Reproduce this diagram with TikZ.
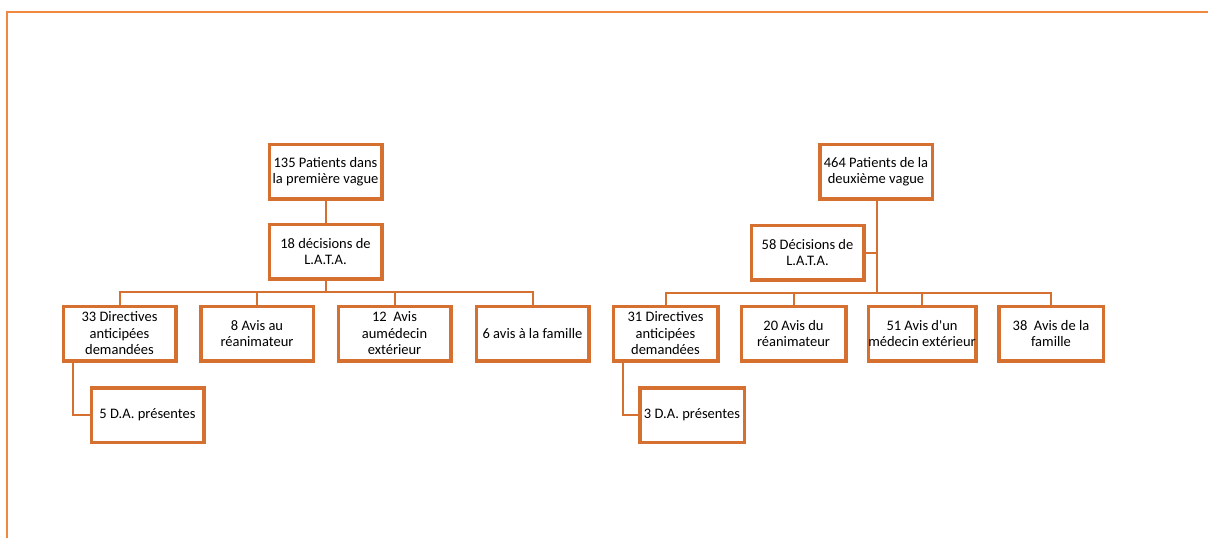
\documentclass[tikz,border=0pt]{standalone}
\usepackage{fontspec}
\setmainfont{Carlito}[Ligatures=TeXOff]
\definecolor{boxorange}{RGB}{214,112,48}
\definecolor{frameorange}{RGB}{240,136,62}
\begin{document}
\begin{tikzpicture}[x=1pt,y=-1pt,
        box/.style={draw=boxorange,line width=3.5pt,fill=white,inner sep=0pt,
            minimum width=112.5pt,minimum height=54.5pt,align=center,
            font=\fontsize{14.5}{16.5}\selectfont},
        narrow/.style={box,minimum width=104.5pt},
        link/.style={draw=boxorange,line width=2pt}]
        \useasboundingbox (0,0) rectangle (1208,538);
        \draw[frameorange,line width=2pt] (7,538) -- (7,12) -- (1208,12);
        % Left tree
        \node[box] (lr) at (325.5,171.5) {135 Patients dans\\la première vague};
        \node[box] (ld) at (325.5,251.5) {18 décisions de\\L.A.T.A.};
        \node[box] (l1) at (119.5,333.5) {33 Directives\\anticipées\\demandées};
        \node[box] (l2) at (257,333.5) {8 Avis au\\réanimateur};
        \node[box] (l3) at (394.5,333.5) {12~ Avis\\aumédecin\\extérieur};
        \node[box] (l4) at (532.5,333.5) {6 avis à la famille};
        \node[box] (l1a) at (147.5,415) {5 D.A. présentes};
        \coordinate (lbus) at (325.5,292);
        \draw[link] (lr) -- (ld);
        \draw[link] (ld) -- (lbus);
        \foreach \c in {l1,l2,l3,l4}
            \draw[link] (lbus) -| (\c.north);
        \draw[link] ([xshift=-46.5pt]l1.south) |- (l1a.west);
        % Right tree
        \node[box] (rr) at (876,171.5) {464 Patients de la\\deuxième vague};
        \node[box] (rd) at (807.5,252.5) {58 Décisions de\\L.A.T.A.};
        \node[narrow] (r1) at (665.5,333.5) {31 Directives\\anticipées\\demandées};
        \node[narrow] (r2) at (793.5,333.5) {20 Avis du\\réanimateur};
        \node[narrow] (r3) at (922,333.5) {51 Avis d'un\\médecin extérieur};
        \node[narrow] (r4) at (1051,333.5) {38~ Avis de la\\famille};
        \node[narrow] (r1a) at (692,415) {3 D.A. présentes};
        \coordinate (rbus) at (877,293);
        \draw[link] (rr.south -| rbus) -- (rbus);
        \draw[link] (rd.east) -- (rd.east -| rbus);
        \foreach \c in {r1,r2,r3,r4}
            \draw[link] (rbus) -| (\c.north);
        \draw[link] ([xshift=-42.5pt]r1.south) |- (r1a.west);
\end{tikzpicture}
\end{document}
